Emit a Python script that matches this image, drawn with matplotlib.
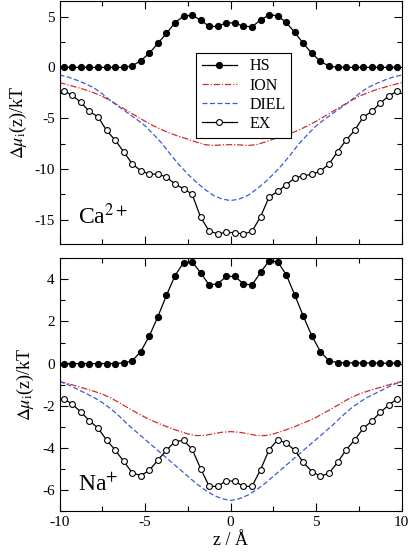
import numpy as np
import matplotlib
matplotlib.use("Agg")
import matplotlib.pyplot as plt
from matplotlib.ticker import MultipleLocator

plt.rcParams['font.family'] = ['Liberation Serif', 'DejaVu Serif']
plt.rcParams['mathtext.fontset'] = 'stix'
plt.rcParams['axes.unicode_minus'] = False

# z positions of the sampled points (Å)
z_pts = [-9.75, -9.25, -8.75, -8.25, -7.75, -7.25, -6.75, -6.25, -5.75, -5.25,
         -4.75, -4.25, -3.75, -3.25, -2.75, -2.25, -1.75, -1.25, -0.75, -0.25,
         0.25, 0.75, 1.25, 1.75, 2.25, 2.75, 3.25, 3.75, 4.25, 4.75,
         5.25, 5.75, 6.25, 6.75, 7.25, 7.75, 8.25, 8.75, 9.25, 9.75]
# z positions of the smooth curves
z_line = [-10, -9.5, -9, -8.5, -8, -7.5, -7, -6.5, -6, -5.5, -5, -4.5, -4, -3.5, -3,
          -2.5, -2, -1.5, -1, -0.5, 0, 0.5, 1, 1.5, 2, 2.5, 3, 3.5, 4, 4.5, 5,
          5.5, 6, 6.5, 7, 7.5, 8, 8.5, 9, 9.5, 10]

# Ca2+ panel
ca_hs = [0, 0, 0, 0, 0, 0, 0, 0, 0.16, 0.65, 1.4, 2.36, 3.34, 4.4, 5.04, 5.14, 4.65, 4.03, 4.03, 4.4,
         4.35, 4.05, 4.0, 4.65, 5.17, 5.08, 4.42, 3.44, 2.36, 1.38, 0.59, 0.13, 0, 0, 0, 0, 0, 0, 0, 0]
ca_ex = [-2.30, -2.76, -3.44, -4.33, -4.86, -6.2, -7.15, -8.3, -9.48, -10.17, -10.5, -10.49, -10.79,
         -11.47, -11.93, -12.46, -14.75, -16.1, -16.36, -16.22,
         -16.26, -16.39, -16.13, -14.69, -12.75, -12.2, -11.54, -10.88, -10.66, -10.52, -10.2, -9.51,
         -8.3, -7.15, -6.2, -4.89, -4.33, -3.51, -2.79, -2.33]
ca_ion = [-1.5, -1.72, -1.95, -2.2, -2.5, -2.85, -3.3, -3.8, -4.3, -4.8, -5.3, -5.75, -6.15, -6.5,
          -6.8, -7.05, -7.35, -7.6, -7.68, -7.62, -7.6, -7.62, -7.68, -7.6, -7.35, -7.05, -6.8, -6.5,
          -6.15, -5.75, -5.3, -4.8, -4.3, -3.8, -3.3, -2.85, -2.5, -2.2, -1.95, -1.72, -1.5]
ca_diel = [-0.75, -0.95, -1.25, -1.6, -2.0, -2.6, -3.3, -3.9, -4.5, -5.1, -5.75, -6.6, -7.5, -8.6,
           -9.6, -10.5, -11.3, -12.0, -12.6, -12.95, -13.1, -12.95, -12.6, -12.0, -11.3, -10.5, -9.6,
           -8.6, -7.5, -6.6, -5.75, -5.1, -4.5, -3.9, -3.3, -2.6, -2.0, -1.6, -1.25, -0.95, -0.75]

# Na+ panel
na_hs = [0, 0, 0, 0, 0, 0, 0, 0.03, 0.13, 0.57, 1.31, 2.23, 3.24, 4.17, 4.8, 4.84, 4.31, 3.73, 3.79, 4.14,
         4.14, 3.79, 3.73, 4.33, 4.88, 4.84, 4.22, 3.26, 2.25, 1.31, 0.57, 0.13, 0.05, 0.04, 0.03, 0.03,
         0.03, 0.02, 0.02, 0.02]
na_ex = [-1.66, -1.93, -2.3, -2.72, -3.06, -3.63, -4.1, -4.64, -5.18, -5.32, -5.07, -4.58, -4.12, -3.7,
         -3.65, -4.06, -4.99, -5.83, -5.83, -5.56,
         -5.59, -5.83, -5.83, -5.04, -4.09, -3.62, -3.77, -4.12, -4.69, -5.13, -5.35, -5.21, -4.69,
         -4.1, -3.63, -3.08, -2.73, -2.32, -1.96, -1.67]
na_ion = [-0.85, -0.95, -1.07, -1.19, -1.31, -1.45, -1.63, -1.86, -2.1, -2.33, -2.55, -2.74, -2.91,
          -3.07, -3.21, -3.34, -3.42, -3.41, -3.33, -3.26, -3.23, -3.26, -3.33, -3.41, -3.42, -3.34,
          -3.21, -3.07, -2.91, -2.74, -2.55, -2.33, -2.1, -1.86, -1.63, -1.45, -1.31, -1.19, -1.07,
          -0.95, -0.85]
na_diel = [-0.85, -1.0, -1.2, -1.4, -1.6, -1.85, -2.15, -2.5, -2.9, -3.25, -3.6, -3.95, -4.3, -4.65,
           -5.0, -5.35, -5.7, -6.0, -6.25, -6.42, -6.5, -6.42, -6.25, -6.0, -5.7, -5.35, -5.0, -4.65,
           -4.3, -3.95, -3.6, -3.25, -2.9, -2.5, -2.15, -1.85, -1.6, -1.4, -1.2, -1.0, -0.85]

series_labels = ['HS', 'ION', 'DIEL', 'EX']
ion_labels = ['Ca$^{2+}$', 'Na$^{+}$']
x_label = 'z / Å'
y_label = r'$\Delta\mu_{\rm i}$(z)/kT'

RED = '#d42a2a'
BLUE = '#3a5ad6'

fig = plt.figure(figsize=(4.12, 5.58), dpi=100)
L, R = 59.5 / 412, 401.7 / 412
ax1 = fig.add_axes([L, 1 - 244.3 / 558, R - L, (244.3 - 0.8) / 558])
ax2 = fig.add_axes([L, 1 - 511 / 558, R - L, (511 - 258.3) / 558])


def draw(ax, hs, ion, diel, ex):
    ax.plot(z_pts, hs, '-o', color='black', lw=0.9, ms=4.2, mfc='black', mec='black',
            label=series_labels[0], zorder=4)
    ax.plot(z_line, ion, '-.', color=RED, lw=0.9, dashes=(5, 1.5, 1, 1.5), label=series_labels[1], zorder=2)
    ax.plot(z_line, diel, '--', color=BLUE, lw=0.9, dashes=(4, 2), label=series_labels[2], zorder=2)
    ax.plot(z_pts, ex, '-o', color='black', lw=0.9, ms=4.2, mfc='white', mec='black', mew=0.8,
            label=series_labels[3], zorder=4)
    ax.set_xlim(-10, 10)
    ax.xaxis.set_major_locator(MultipleLocator(5))
    ax.xaxis.set_minor_locator(MultipleLocator(2.5))
    ax.tick_params(which='both', direction='in', top=True, right=True, labelsize=11)
    ax.tick_params(which='major', length=6, width=0.8)
    ax.tick_params(which='minor', length=3.5, width=0.8)
    for s in ax.spines.values():
        s.set_linewidth(0.8)
    ax.set_ylabel(y_label, fontsize=13, labelpad=4)


draw(ax1, ca_hs, ca_ion, ca_diel, ca_ex)
ax1.set_ylim(-17.4, 6.55)
ax1.yaxis.set_major_locator(MultipleLocator(5))
ax1.yaxis.set_minor_locator(MultipleLocator(2.5))
ax1.tick_params(labelbottom=False)
ax1.text(-8.9, -15.4, ion_labels[0], fontsize=17, ha='left', va='baseline')
leg = ax1.legend(loc='upper left', bbox_to_anchor=(0.399, 0.786), fontsize=11.5, frameon=True,
                 fancybox=False, edgecolor='black', framealpha=1, handlelength=2.2,
                 handletextpad=0.8, borderpad=0.35, labelspacing=0.2, borderaxespad=0)
leg.get_frame().set_linewidth(0.8)

draw(ax2, na_hs, na_ion, na_diel, na_ex)
ax2.set_ylim(-7, 5)
ax2.yaxis.set_major_locator(MultipleLocator(2))
ax2.yaxis.set_minor_locator(MultipleLocator(1))
ax2.text(-8.9, -6.05, ion_labels[1], fontsize=17, ha='left', va='baseline')
ax2.set_xlabel(x_label, fontsize=13, labelpad=2)

fig.savefig('out.png', dpi=100)
